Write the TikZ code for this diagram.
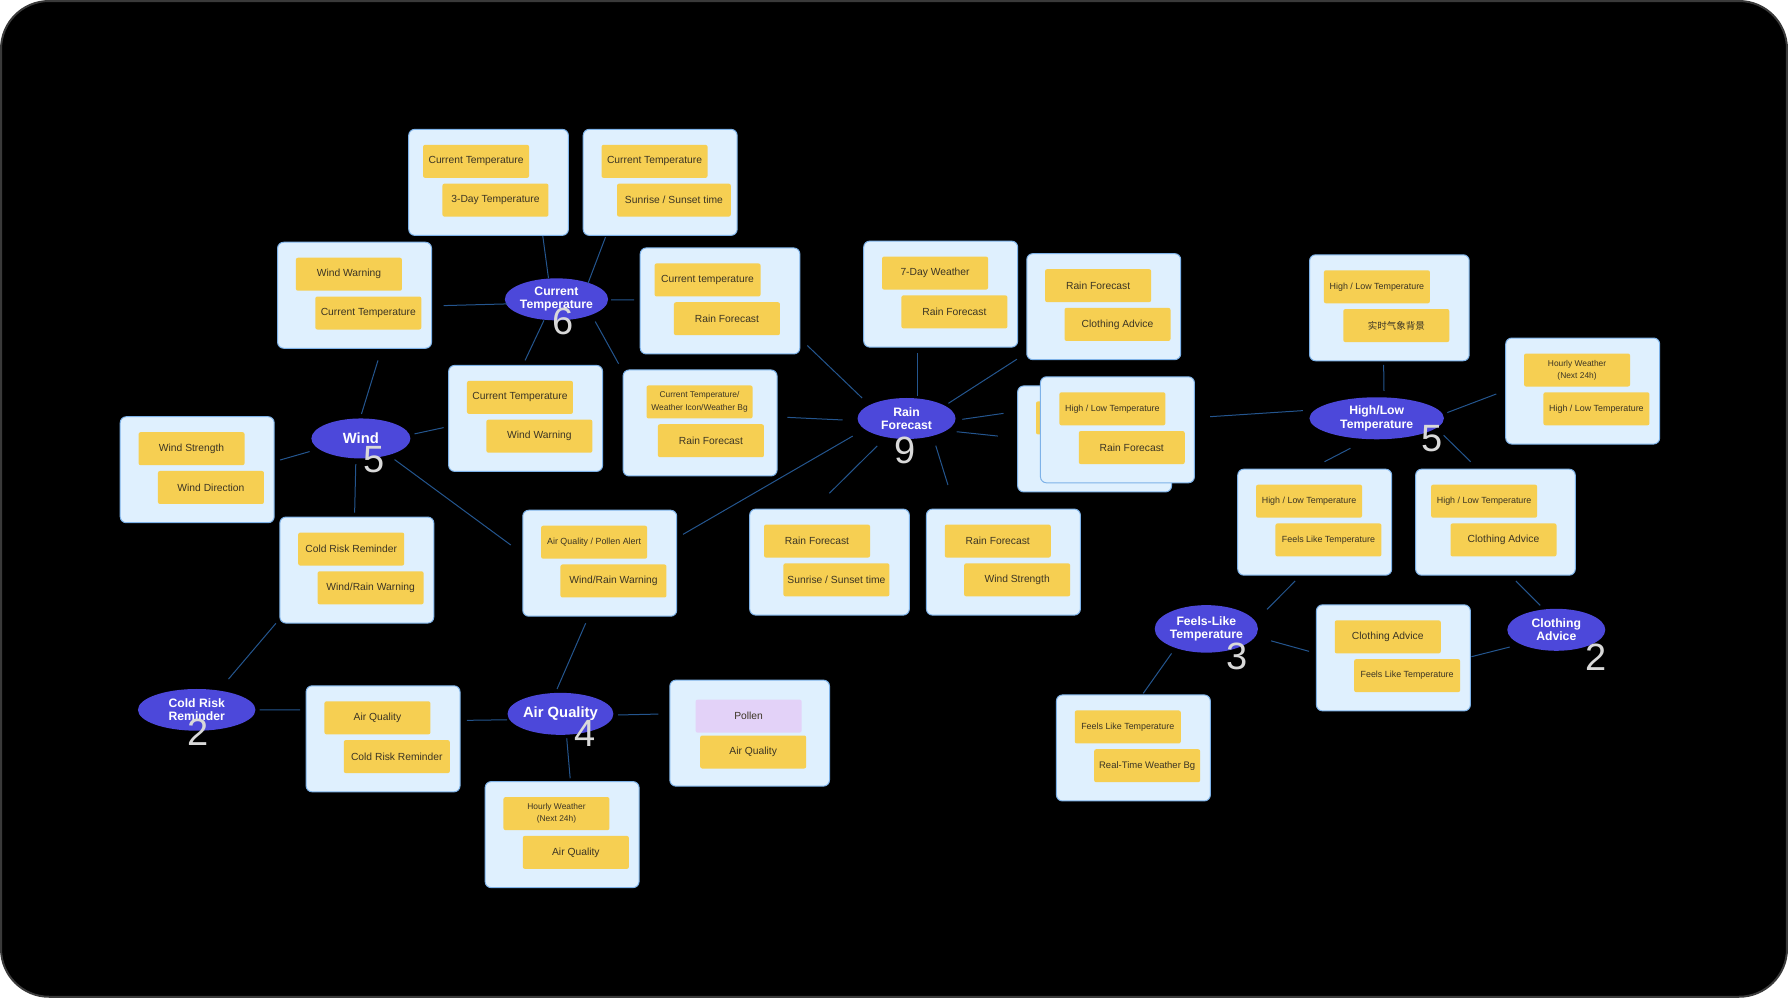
\documentclass[tikz,border=0pt]{standalone}
\usepackage{fontspec}
\setmainfont{Liberation Sans}
\newfontfamily\cjkfont{Noto Sans CJK SC}
\usetikzlibrary{shapes.geometric}
\definecolor{cardfill}{HTML}{DFF0FE}
\definecolor{cardline}{HTML}{7EB2E8}
\definecolor{stickyfill}{HTML}{F6CF52}
\definecolor{stickytext}{HTML}{3B3424}
\definecolor{pollenfill}{HTML}{E3D2F8}
\definecolor{hubfill}{HTML}{4C48DA}
\definecolor{connline}{HTML}{24558E}
\definecolor{numgrey}{HTML}{D9D9D9}
\definecolor{frameline}{HTML}{3A3A3A}
\tikzset{
  cardbox/.style={draw=cardline, fill=cardfill, line width=1pt, rounded corners=6pt, minimum height=106pt, inner sep=0pt},
  sticky/.style={fill=stickyfill, rounded corners=2pt, minimum width=106pt, minimum height=33pt, inner sep=0pt, text=stickytext, font=\fontsize{10.3}{12}\selectfont, align=center},
  ftmid/.style={font=\fontsize{9.5}{11}\selectfont},
  ftsmall/.style={font=\fontsize{8.9}{10.5}\selectfont},
  fttwo/.style={font=\fontsize{8.4}{12.3}\selectfont},
  ftcjk/.style={font=\cjkfont\fontsize{9.5}{11}\selectfont},
  hub/.style={ellipse, fill=hubfill, inner sep=0pt, text=white, align=center, font=\bfseries\fontsize{12.2}{13.3}\selectfont},
  hubbig/.style={font=\bfseries\fontsize{14.8}{16}\selectfont},
  hubcount/.style={text=numgrey, inner sep=0pt, font=\fontsize{38}{38}\selectfont},
  conn/.style={draw=connline, line width=1pt},
}
\newcommand\mkcard[9]{%
  \node[cardbox, minimum width={#4*1.1403pt}, anchor=north west] (#1) at (#2,#3) {};
  \node[sticky,#6] (#1a) at ([shift={(#5,28.5)}]#1.north west) {#7};
  \node[sticky,#8] (#1b) at ([shift={(#5+17,62.5)}]#1.north west) {#9};
}
\newcommand\link[4]{\draw[conn] ([shift={#2}]#1.center) -- ([shift={#4}]#3.north west);}
\begin{document}
\begin{tikzpicture}[x=1.1403pt, y=-1.1403pt]
\useasboundingbox (0,0) rectangle (1568,875);
\fill[white] (0,0) rectangle (1568,875);
\filldraw[fill=black, draw=frameline, line width=2pt, rounded corners=48pt] (0.9,0.9) rectangle (1567.1,874.1);

% cards
\mkcard{bA}{358}{113}{140}{59.5}{}{Current Temperature}{}{3-Day Temperature}
\mkcard{bB}{511}{113}{135}{63}{}{Current Temperature}{minimum width=113.7pt}{Sunrise / Sunset time}
\mkcard{bC}{243}{212}{135}{63}{}{Wind Warning}{}{Current Temperature}
\mkcard{bD}{561}{217}{140}{59.5}{}{Current temperature}{}{Rain Forecast}
\mkcard{bE}{757}{211}{135}{63}{}{7-Day Weather}{}{Rain Forecast}
\mkcard{bF}{900}{222}{135}{63}{}{Rain Forecast}{}{Clothing Advice}
\node[cardbox, minimum width=153.9pt, anchor=north west] (bG) at (892,338) {};
\node[sticky] (bGa) at ([shift={(63,28.5)}]bG.north west) {};
\mkcard{bH}{912}{330}{135}{63.5}{ftsmall}{High / Low Temperature}{}{Rain Forecast}
\mkcard{bI}{1148}{223}{140}{59.5}{ftsmall}{High / Low Temperature}{ftcjk}{实时气象背景}
\mkcard{bJ}{1320}{296}{135}{63}{fttwo}{Hourly Weather\\(Next 24h)}{ftsmall}{High / Low Temperature}
\mkcard{bK}{105}{365}{135}{63}{}{Wind Strength}{}{Wind Direction}
\mkcard{bL}{393}{320}{135}{63}{}{Current Temperature}{}{Wind Warning}
\mkcard{bM}{546}{324}{135}{63}{fttwo,xshift=5.1pt}{Current Temperature/\\Weather Icon/Weather Bg}{xshift=-2.9pt}{Rain Forecast}
\mkcard{bN}{458}{447}{135}{63}{ftsmall}{Air Quality / Pollen Alert}{}{Wind/Rain Warning}
\mkcard{bO}{657}{446}{140}{59.5}{}{Rain Forecast}{}{Sunrise / Sunset time}
\mkcard{bP}{812}{446}{135}{63}{}{Rain Forecast}{}{Wind Strength}
\mkcard{bQ}{245}{453}{135}{63}{}{Cold Risk Reminder}{}{Wind/Rain Warning}
\mkcard{bR}{1085}{411}{135}{63}{ftsmall}{High / Low Temperature}{ftsmall}{Feels Like Temperature}
\mkcard{bS}{1241}{411}{140}{60.5}{ftsmall}{High / Low Temperature}{}{Clothing Advice}
\mkcard{bT}{1154}{530}{135}{63}{}{Clothing Advice}{ftsmall}{Feels Like Temperature}
\mkcard{bU}{926}{609}{135}{63}{ftsmall}{Feels Like Temperature}{ftmid}{Real-Time Weather Bg}
\mkcard{bV}{268}{601}{135}{63}{}{Air Quality}{}{Cold Risk Reminder}
\mkcard{bW}{587}{596}{140}{69.5}{fill=pollenfill,yshift=-4pt}{Pollen}{xshift=-14.8pt,yshift=-1.1pt}{Air Quality}
\mkcard{bX}{425}{685}{135}{63}{fttwo}{Hourly Weather\\(Next 24h)}{}{Air Quality}

% hubs
\node[hub, minimum width=98pt, minimum height=42pt] (hCT) at (488,262.5) {Current\\Temperature};
\node[hub, hubbig, minimum width=99pt, minimum height=40pt] (hWind) at (316.5,384.5) {Wind};
\node[hub, minimum width=98pt, minimum height=41pt] (hRain) at (795,367) {Rain\\Forecast};
\node[hub, minimum width=134.5pt, minimum height=42pt] (hHL) at (1207.3,366.8) {High/Low\\Temperature};
\node[hub, minimum width=102.6pt, minimum height=47.5pt] (hFeels) at (1057.9,551.5) {Feels-Like\\Temperature};
\node[hub, minimum width=98pt, minimum height=42pt] (hCloth) at (1364.8,552.3) {Clothing\\Advice};
\node[hub, minimum width=117.5pt, minimum height=41.7pt] (hCold) at (172.5,622.5) {Cold Risk\\Reminder};
\node[hub, hubbig, minimum width=97pt, minimum height=42pt] (hAir) at (491.5,626) {Air Quality};

% counts
\node[hubcount] (nCT) at (494,282) {6};
\node[hubcount] (nWind) at (327.7,402.7) {5};
\node[hubcount] (nRain) at (793.4,395.4) {9};
\node[hubcount] (nHL) at (1255.5,385) {5};
\node[hubcount] (nFeels) at (1085,575.6) {3};
\node[hubcount] (nCloth) at (1399.4,576.5) {2};
\node[hubcount] (nCold) at (173.8,642.5) {2};
\node[hubcount] (nAir) at (513.2,642.8) {4};

% connectors
\link{hCT}{(-7,-18.5)}{bA}{(118,94)}
\link{hCT}{(27.6,-14)}{bB}{(20,95)}
\link{hCT}{(-43,4)}{bC}{(146,56)}
\link{hCT}{(48,0.5)}{bD}{(-5,46)}
\link{hCT}{(-11,18.5)}{bL}{(67.5,-4)}
\link{hCT}{(34,19.5)}{bM}{(-3.5,-5)}
\link{hWind}{(0.5,-21.5)}{bC}{(88.5,104)}
\link{hWind}{(-45,11.5)}{bK}{(140.6,38.4)}
\link{hWind}{(47,-4)}{bL}{(-4,55)}
\link{hWind}{(29.5,18.5)}{bN}{(-10,31)}
\link{hWind}{(-4.5,22.5)}{bQ}{(66,-3.4)}
\link{hRain}{(-39,-18)}{bD}{(147,86)}
\link{hRain}{(9.5,-20)}{bE}{(47.5,99)}
\link{hRain}{(36.7,-13.3)}{bF}{(-8.2,93)}
\link{hRain}{(49,0.7)}{bH}{(-32,32.5)}
\link{hRain}{(44,11.6)}{bG}{(-17,44.4)}
\link{hRain}{(-56,1.3)}{bM}{(144.4,42)}
\link{hRain}{(-47.2,15.4)}{bN}{(141,21.6)}
\link{hRain}{(-25.7,24)}{bO}{(70.3,-13.4)}
\link{hRain}{(25.6,23.8)}{bP}{(19.3,-20.7)}
\link{hHL}{(-64.8,-6.7)}{bH}{(149.3,35.4)}
\link{hHL}{(6.4,-24)}{bI}{(65.4,97)}
\link{hHL}{(61.9,-5)}{bJ}{(-7.8,49.5)}
\link{hHL}{(-23,26.3)}{bR}{(76.5,-6.1)}
\link{hHL}{(58.7,14.9)}{bS}{(48.7,-6.1)}
\link{hFeels}{(53.2,-17.1)}{bR}{(50.8,98.5)}
\link{hFeels}{(56.8,10.5)}{bT}{(-6,41.2)}
\link{hFeels}{(-30.5,21.5)}{bU}{(76.6,-1)}
\link{hCloth}{(-14,-21.4)}{bS}{(88.4,98.5)}
\link{hCloth}{(-40.8,15.1)}{bT}{(136.4,45.9)}
\link{hCold}{(27.9,-27)}{bQ}{(-3,93.6)}
\link{hCold}{(55.1,0.1)}{bV}{(-4.7,21.6)}
\link{hAir}{(-3,-21.8)}{bN}{(55.6,99.6)}
\link{hAir}{(-46.7,5.2)}{bV}{(141.5,30.7)}
\link{hAir}{(50.6,1)}{bW}{(-9.6,30.2)}
\link{hAir}{(5.5,21.5)}{bX}{(75,-2.5)}
\end{tikzpicture}
\end{document}
